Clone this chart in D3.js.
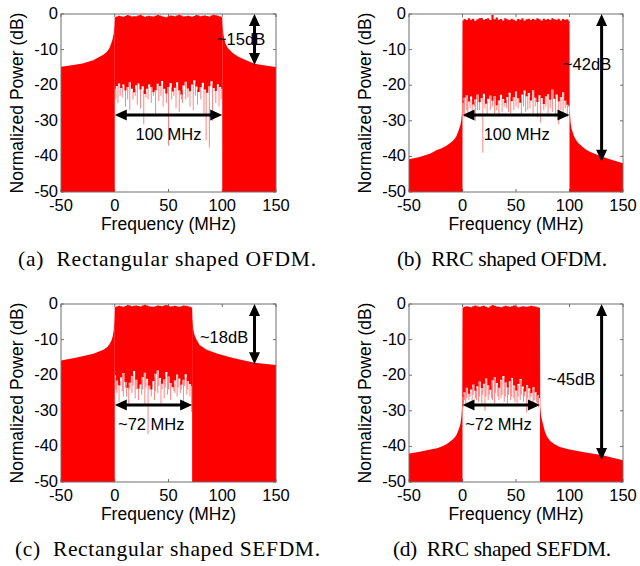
<!DOCTYPE html>
<html><head><meta charset="utf-8">
<script src="https://cdn.jsdelivr.net/npm/d3@7"></script>
<style>body{margin:0;background:#fff}svg{display:block}</style>
</head><body>
<svg id="chart" width="640" height="566"></svg>
<script>
// ---------- tick values ----------
const xTicks = [-50, 0, 50, 100, 150];
const yTicks = [0, -10, -20, -30, -40, -50];

// ---------- (a) Rectangular shaped OFDM ----------
const aBand = [0, 100];
const aLeftF  = [-50, -40, -30, -20, -14, -10, -7, -5, -3, -2, -1, -0.3, 0];
const aLeftDB = [-14.8, -14.4, -13.9, -13.0, -12.0, -11.3, -10.5, -9.6, -8.0, -7.0, -5.5, -3, -1];
const aRightF  = [100, 100.3, 101, 102, 103, 105, 110, 115, 120, 130, 140, 150];
const aRightDB = [-1, -3, -5.5, -7.2, -8.3, -9.5, -11, -12, -12.7, -14.0, -14.5, -14.9];
const aTop = [-0.9,-0.5,-0.8,-0.3,-0.7,-0.6,-0.2,-0.8,-0.5,-0.7,-0.3,-0.6,-0.9,-0.4,-0.6,-0.2,-0.7,-0.5,-0.8,-0.3,-0.6,-0.4,-0.7,-0.2,-0.5,-0.9];
const aBottom = [-21,-20.2,-19.5,-20.8,-19.8,-21.5,-20.5,-19.2,-21,-22,-20,-19.5,-21.2,-20.3,-22.5,-21,-19.8,-20.6,-22,-21.4,-19.6,-20.2,-18.8,-21,-22.3,-20.5,-19.4,-21.8,-20.7,-19.2,-21.5,-22.6,-20.1,-19,-20.9,-21.7,-19.8,-18.6,-20.4,-21.9,-20.6,-19.3,-21.2,-22.1,-20.3,-18.9,-20.8,-21.6,-19.7,-20.5,-21];
const aSpikeF  = [1,3,5,7,10,12,14,17,19,21,24,27,29,31,34,36,38,41,43,45,48,50,53,55,57,60,62,63,66,68,70,73,75,77,80,83,85,88,91,94,97,99];
const aSpikeDB = [-24,-25,-23,-23.5,-26,-24,-27,-24,-23,-25.5,-26.5,-31,-23.5,-24,-25,-23,-28.5,-24.5,-23,-26,-25,-37,-24,-23,-26.5,-27.5,-24,-25,-24,-23.5,-26,-27,-23,-25.5,-24,-28,-35.5,-37.5,-30,-25,-26,-24];

// ---------- (b) RRC shaped OFDM ----------
const bBand = [0, 100];
const bLeftF  = [-50, -40, -30, -24, -20, -15, -10, -8, -6, -4, -2, -1, -0.5, 0];
const bLeftDB = [-40.8, -40.2, -39.2, -38.2, -37.8, -37, -35.9, -35.3, -34.5, -33, -31.2, -29.5, -27.5, -2];
const bRightF  = [100, 100.3, 101, 102, 104, 106, 108, 112, 116, 120, 130, 140, 150];
const bRightDB = [-2, -27, -30.5, -32.3, -34.2, -35.3, -36.2, -37.3, -38.2, -38.8, -40, -41, -41.9];
const bTop = [-1.8,-1.4,-1.7,-1.2,-1.6,-1.3,-1.9,-1.5,-1.2,-1.1,-1.6,-1.4,-1.2,-1.7,-0.3,-1.5,-1.0,-1.6,-1.4,-1.8,-1.2,-1.5,-1.7,-1.3,-1.6,-1.9,-1.4,-1.6,-1.2,-1.8,-1.5,-1.3,-1.7,-1.4,-1.6,-1.2,-1.5,-1.8,-1.3,-1.6,-1.4,-1.7,-1.2,-1.5,-1.6,-1.3,-1.8,-1.4,-1.6,-1.5,-1.9];
const bBottom = [-25,-23.5,-22.8,-24.6,-23.2,-25.4,-24,-22.6,-24.8,-23.6,-22.4,-25.2,-23.8,-22.9,-24.4,-23,-25.6,-24.2,-22.7,-23.9,-25,-23.3,-22.1,-24.5,-23.4,-21.8,-23.7,-24.9,-22.6,-21.5,-23.1,-22.2,-24.3,-21.4,-23.5,-24.7,-22.8,-23.6,-25.3,-23.1,-22.5,-24.1,-21.2,-23.8,-22.6,-24.6,-23.3,-22,-24.4,-25.5,-26];
const bSpikeF  = [1,2,4,5,7,9,11,12,14,16,19,21,23,26,28,30,32,34,37,39,41,43,45,48,50,52,55,57,59,61,63,66,68,70,73,76,78,80,82,84,87,90,92,94,96,98];
const bSpikeDB = [-28,-29,-27,-28,-26.5,-27.5,-26,-30,-27,-27,-39,-26.5,-28.5,-27,-26,-28,-27,-29,-27.5,-26,-26.5,-27.5,-28,-27,-26,-26.5,-28,-26,-27.5,-27,-26.5,-28,-26,-29,-30.5,-27,-26,-28,-26.5,-27.5,-29,-31,-27,-28,-26.5,-29];

// ---------- (c) Rectangular shaped SEFDM ----------
const cBand = [0, 72];
const cLeftF  = [-50, -40, -30, -20, -14, -10, -7, -5, -3, -2, -1, -0.3, 0];
const cLeftDB = [-15.9, -15.3, -14.7, -14.0, -13.3, -12.8, -12.1, -11.4, -10.2, -9.2, -7.5, -4, -1];
const cRightF  = [72, 72.3, 73, 74, 76, 79, 85, 95, 110, 130, 150];
const cRightDB = [-1, -4, -7, -8.5, -10, -11.5, -12.8, -13.9, -15.2, -16.5, -17.1];
const cTop = [-0.9,-0.5,-0.8,-0.3,-0.6,-0.4,-0.7,-0.2,-0.6,-0.8,-0.4,-0.6,-0.3,-0.7,-0.5,-0.8,-0.4,-0.6,-1.0];
const cBottom = [-20,-21.5,-22.8,-20.6,-19.4,-21.9,-23.5,-22.1,-20.2,-18.8,-21.3,-23.8,-22.6,-20.5,-19.3,-21,-22.9,-24,-21.6,-19.6,-18.6,-20.8,-22.4,-21.2,-19.1,-20.4,-22.2,-23.4,-21.5,-19.8,-20.9,-22.7,-21.3,-19.7,-21.6,-22.5,-23];
const cSpikeF  = [1,2,4,5,7,8,10,11,13,14,16,17,19,20,22,23,25,26,28,29,31,32,34,35,37,38,40,41,43,44,46,47,49,50,52,53,55,56,58,59,61,62,64,65,67,68,70,71.5];
const cSpikeDB = [-24,-25,-27.5,-23,-24.5,-26,-23.5,-26,-28,-24,-25,-23,-26.5,-24,-27,-23,-25.5,-24,-28.5,-23.5,-36.5,-24,-26,-23,-27,-24.5,-25,-23,-28,-24,-26.5,-23.5,-25.5,-24,-27,-23,-24.5,-25,-26,-23.5,-25,-24,-27.5,-23,-25.5,-24,-26,-30.3];

// ---------- (d) RRC shaped SEFDM ----------
const dBand = [0, 72.4];
const dLeftF  = [-50, -40, -30, -24, -20, -15, -10, -8, -6, -4, -2, -1, -0.5, 0];
const dLeftDB = [-42, -41.5, -40.9, -40.5, -40.1, -39.4, -38.3, -37.7, -37, -35.6, -33.8, -31.5, -29, -2];
const dRightF  = [72.4, 72.7, 73.5, 75, 77, 79, 82, 86, 91, 100, 115, 130, 150];
const dRightDB = [-2, -29, -31.5, -33.5, -35.8, -37.3, -38.5, -39.4, -40.2, -40.9, -41.7, -42.4, -43.9];
const dTop = [-1.0,-0.6,-0.9,-0.4,-0.8,-0.5,-1.0,-0.3,-0.7,-0.9,-0.5,-0.8,-0.4,-0.9,-0.6,-0.8,-0.5,-0.7,-1.1];
const dBottom = [-26,-24.8,-23.5,-25.2,-24,-22.6,-24.4,-23.1,-21.8,-23.6,-22.4,-20.9,-22.8,-24.1,-21.5,-20.6,-22.2,-23.5,-21.3,-20.2,-22,-23.4,-21.7,-20.8,-22.9,-24.3,-22.5,-21.1,-23.2,-24.6,-22.8,-23.7,-25,-23.4,-24.8,-25.6,-26.5];
const dSpikeF  = [0.5,1,2,3,4,6,7,9,10,12,13,15,16,18,19,21,22,24,25,27,28,30,31,33,34,36,37,39,40,42,43,45,46,48,49,51,52,54,55,57,58,60,61,63,64,66,67,69,70,71];
const dSpikeDB = [-29,-28,-27,-28,-26.5,-27,-26,-28.5,-25.5,-26.5,-27,-27.5,-26,-28,-25.5,-30,-26,-27,-25.5,-26.5,-27,-28,-25,-26,-27,-26.5,-25.5,-27.5,-26,-28,-25.5,-27,-26,-26.5,-27.5,-28,-26,-27,-25.5,-27.5,-26,-30.5,-26.5,-27,-26,-28,-27,-27.5,-28,-29];

// ---------- annotations ----------
const captions   = ["(a)  Rectangular shaped OFDM.", "(b)  RRC shaped OFDM.", "(c)  Rectangular shaped SEFDM.", "(d)  RRC shaped SEFDM."];
const dbLabels   = ["~15dB", "~42dB", "~18dB", "~45dB"];
const dbLabelPos = [[95.1, -8.6], [93.9, -15.7], [79.3, -11.0], [79.0, -22.8]];
const vArrowEnd  = [-14.3, -41.5, -16.9, -43.8];
const bwLabels   = ["100 MHz", "100 MHz", "~72 MHz", "~72 MHz"];
const bwLabelPos = [[50, -35.4], [50.6, -35.4], [34.0, -35.4], [33.6, -35.4]];
const vArrowF = 130, vArrowTop = 0, hArrowDB = -28.4;

// ---------- layout ----------
const boxes = [
  {l: 61,  r: 276, t: 14,  b: 192, cap: [18, 316]},
  {l: 409, r: 623, t: 14,  b: 192, cap: [397, 607]},
  {l: 61,  r: 276, t: 304, b: 482, cap: [15, 320]},
  {l: 409, r: 623, t: 304, b: 482, cap: [393, 611]}
];
const panelData = [
  {band: aBand, lf: aLeftF, ld: aLeftDB, rf: aRightF, rd: aRightDB, top: aTop, bot: aBottom, sf: aSpikeF, sd: aSpikeDB},
  {band: bBand, lf: bLeftF, ld: bLeftDB, rf: bRightF, rd: bRightDB, top: bTop, bot: bBottom, sf: bSpikeF, sd: bSpikeDB},
  {band: cBand, lf: cLeftF, ld: cLeftDB, rf: cRightF, rd: cRightDB, top: cTop, bot: cBottom, sf: cSpikeF, sd: cSpikeDB},
  {band: dBand, lf: dLeftF, ld: dLeftDB, rf: dRightF, rd: dRightDB, top: dTop, bot: dBottom, sf: dSpikeF, sd: dSpikeDB}
];

const svg = d3.select("#chart");
const SANS = "'Liberation Sans', Arial, Helvetica, sans-serif";
const SERIF = "'Liberation Serif', 'Times New Roman', serif";
const RED = "#ff0000";
const BOXC = "#6e6e6e";

function spread(vals, band) {
  const n = vals.length;
  return vals.map((v, i) => [band[0] + i * (band[1] - band[0]) / (n - 1), v]);
}
function interp(pts, f) {
  const fs = pts.map(d => d[0]);
  const i = Math.min(fs.length - 2, Math.max(0, d3.bisectRight(fs, f) - 1));
  const t = (f - fs[i]) / (fs[i + 1] - fs[i]);
  return pts[i][1] + t * (pts[i + 1][1] - pts[i][1]);
}

panelData.forEach((P, k) => {
  const B = boxes[k];
  const x = d3.scaleLinear().domain([-50, 150]).range([B.l, B.r]);
  const y = d3.scaleLinear().domain([-50, 0]).range([B.b, B.t]);
  const g = svg.append("g");
  const clipId = "clip" + k;
  svg.append("clipPath").attr("id", clipId).append("rect")
    .attr("x", B.l).attr("y", B.t).attr("width", B.r - B.l).attr("height", B.b - B.t);

  // ticks (under data)
  const tk = g.append("g").attr("stroke", BOXC).attr("stroke-width", 1);
  xTicks.forEach(v => {
    tk.append("line").attr("x1", x(v)).attr("x2", x(v)).attr("y1", B.b).attr("y2", B.b - 3);
    tk.append("line").attr("x1", x(v)).attr("x2", x(v)).attr("y1", B.t).attr("y2", B.t + 3);
  });
  yTicks.forEach(v => {
    tk.append("line").attr("x1", B.l).attr("x2", B.l + 3).attr("y1", y(v)).attr("y2", y(v));
    tk.append("line").attr("x1", B.r).attr("x2", B.r - 3).attr("y1", y(v)).attr("y2", y(v));
  });

  const dg = g.append("g").attr("clip-path", `url(#${clipId})`);
  const area = d3.area().x(d => x(d[0])).y0(y(-50)).y1(d => y(d[1]));

  // out-of-band regions
  const left = P.lf.map((f, i) => [f, P.ld[i]]);
  const right = P.rf.map((f, i) => [f, P.rd[i]]);
  dg.append("path").attr("d", area(left)).attr("fill", RED);
  dg.append("path").attr("d", area(right)).attr("fill", RED);

  // deep spikes below the in-band floor (thin pinkish lines)
  const bot = spread(P.bot, P.band);
  P.sf.forEach((f, i) => {
    dg.append("line").attr("x1", x(f)).attr("x2", x(f))
      .attr("y1", y(interp(bot, f))).attr("y2", y(P.sd[i]))
      .attr("stroke", RED).attr("stroke-width", 0.9).attr("stroke-opacity", 0.55);
  });

  // in-band region: noisy top edge, ragged floor (step)
  const top = spread(P.top, P.band);
  const bandArea = d3.area().curve(d3.curveStep)
    .x(d => x(d[0])).y0(d => y(d[1])).y1(d => y(interp(top, d[0])));
  dg.append("path").attr("d", bandArea(bot)).attr("fill", RED);

  // box
  g.append("rect").attr("x", B.l).attr("y", B.t).attr("width", B.r - B.l).attr("height", B.b - B.t)
    .attr("fill", "none").attr("stroke", BOXC).attr("stroke-width", 1);

  // tick labels
  xTicks.forEach(v => {
    g.append("text").attr("x", x(v)).attr("y", B.b + 19).attr("text-anchor", "middle")
      .attr("font-family", SANS).attr("font-size", 16.5).text(v);
  });
  yTicks.forEach(v => {
    g.append("text").attr("x", B.l - 3).attr("y", y(v) + 5).attr("text-anchor", "end")
      .attr("font-family", SANS).attr("font-size", 16.5).text(v);
  });
  g.append("text").attr("x", (B.l + B.r) / 2).attr("y", B.b + 38).attr("text-anchor", "middle")
    .attr("font-family", SANS).attr("font-size", 17.5).text("Frequency (MHz)");
  g.append("text").attr("transform", `translate(${B.l - 38},${(B.t + B.b) / 2}) rotate(-90)`)
    .attr("text-anchor", "middle").attr("font-family", SANS).attr("font-size", 17.5)
    .text("Normalized Power (dB)");

  // arrows
  const ag = g.append("g");
  const head = (px, py, dx, dy) => {
    const L = 12, W = 5.5, nx = -dy, ny = dx;
    const bx = px - dx * L, by = py - dy * L;
    return `M${px},${py}L${bx + nx * W},${by + ny * W}L${bx - nx * W},${by - ny * W}Z`;
  };
  const vx = x(vArrowF), vy1 = y(vArrowTop), vy2 = y(vArrowEnd[k]);
  ag.append("line").attr("x1", vx).attr("x2", vx).attr("y1", vy1 + 8).attr("y2", vy2 - 8)
    .attr("stroke", "#000").attr("stroke-width", 3);
  ag.append("path").attr("d", head(vx, vy1, 0, -1)).attr("fill", "#000");
  ag.append("path").attr("d", head(vx, vy2, 0, 1)).attr("fill", "#000");
  const hy = y(hArrowDB), hx1 = x(P.band[0]), hx2 = x(P.band[1]);
  ag.append("line").attr("x1", hx1 + 8).attr("x2", hx2 - 8).attr("y1", hy).attr("y2", hy)
    .attr("stroke", "#000").attr("stroke-width", 3);
  ag.append("path").attr("d", head(hx1, hy, -1, 0)).attr("fill", "#000");
  ag.append("path").attr("d", head(hx2, hy, 1, 0)).attr("fill", "#000");

  g.append("text").attr("x", x(dbLabelPos[k][0])).attr("y", y(dbLabelPos[k][1]))
    .attr("font-family", SANS).attr("font-size", 16.5).text(dbLabels[k]);
  g.append("text").attr("x", x(bwLabelPos[k][0])).attr("y", y(bwLabelPos[k][1]))
    .attr("text-anchor", "middle").attr("font-family", SANS).attr("font-size", 16.5).text(bwLabels[k]);

  // caption
  g.append("text").attr("x", B.cap[0]).attr("y", B.b + 74)
    .attr("font-family", SERIF).attr("font-size", 21.5)
    .attr("textLength", B.cap[1] - B.cap[0]).attr("lengthAdjust", "spacing")
    .attr("xml:space", "preserve").text(captions[k]);
});
</script>
</body></html>
